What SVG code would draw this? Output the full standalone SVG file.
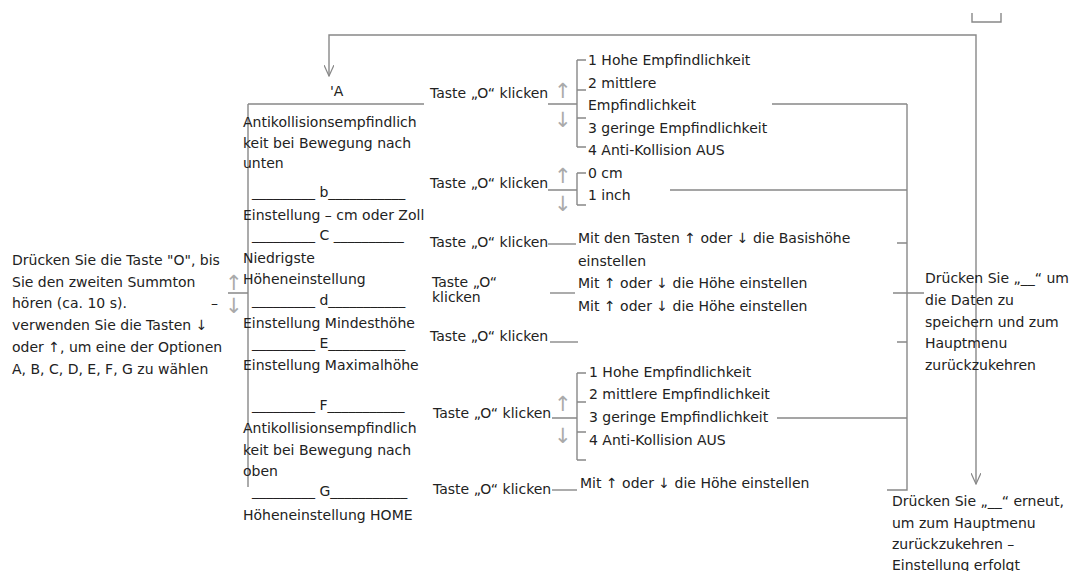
<svg xmlns="http://www.w3.org/2000/svg" width="1078" height="571" viewBox="0 0 1078 571">
<defs>
<marker id="arr" viewBox="0 0 12 10" refX="11" refY="5" markerWidth="12" markerHeight="10" markerUnits="userSpaceOnUse" orient="auto">
<path d="M0,0 L11,5 L0,10" fill="none" stroke="#888" stroke-width="1.2"/>
</marker>
<style>
text{font-family:"DejaVu Sans","Liberation Sans",sans-serif;font-size:14px;fill:#222}
.ar{fill:#aaa;font-size:21px}
.ln{stroke:#888;stroke-width:1.4;fill:none}
.fb{stroke:#888;stroke-width:1.4;fill:none;marker-end:url(#arr)}
</style>
</defs>
<rect width="1078" height="571" fill="#fff"/>

<g id="connectors">
<path class="fb" d="M976,290 V35 H329 V76"/>
<path class="fb" d="M976,290 V484"/>
<path class="ln" d="M972,13 V22 H1001 V13"/>
<path class="ln" d="M248,104 V487 M248,104 H424 M228,293 H248"/>
<path class="ln" d="M548,104 H577 M577,60 V147 M577,60 H586 M577,90 H586 M577,118 H586 M577,147 H586"/>
<path class="ln" d="M548,190 H577 M577,173 V205 M577,173 H586 M577,205 H586"/>
<path class="ln" d="M548,244 H576"/>
<path class="ln" d="M550,293 H575"/>
<path class="ln" d="M550,342 H578"/>
<path class="ln" d="M552,418 H577 M577,373 V460 M577,373 H586 M577,402 H586 M577,432 H586 M577,460 H586"/>
<path class="ln" d="M552,490 H577"/>
<path class="ln" d="M907,104 V490 H887 M772,104 H907 M670,190 H907 M777,418 H907 M897,243 H907 M897,342 H907 M893,293 H924"/>
</g>

<g id="arrows">
<text class="ar" x="554" y="98">↑</text>
<text class="ar" x="554" y="127">↓</text>
<text class="ar" x="554" y="183">↑</text>
<text class="ar" x="554" y="211">↓</text>
<text class="ar" x="554" y="411">↑</text>
<text class="ar" x="554" y="443">↓</text>
<text class="ar" x="225" y="290">↑</text>
<text class="ar" x="225" y="313">↓</text>
</g>

<g id="start">
<text x="12" y="265">Drücken Sie die Taste "O", bis</text>
<text x="12" y="287">Sie den zweiten Summton</text>
<text x="12" y="308">hören (ca. 10 s).</text>
<text x="211" y="308">–</text>
<text x="12" y="330">verwenden Sie die Tasten ↓</text>
<text x="12" y="352">oder ↑, um eine der Optionen</text>
<text x="12" y="374">A, B, C, D, E, F, G zu wählen</text>
</g>

<g id="menu">
<text x="330" y="96">'A</text>
<text x="243" y="127">Antikollisionsempfindlich</text>
<text x="243" y="148">keit bei Bewegung nach</text>
<text x="243" y="168">unten</text>
<text x="252" y="197">_________ b___________</text>
<text x="243" y="220">Einstellung – cm oder Zoll</text>
<text x="252" y="240">_________ C __________</text>
<text x="243" y="263">Niedrigste</text>
<text x="243" y="284">Höheneinstellung</text>
<text x="252" y="305">_________ d___________</text>
<text x="243" y="328">Einstellung Mindesthöhe</text>
<text x="252" y="348">_________ E___________</text>
<text x="243" y="370">Einstellung Maximalhöhe</text>
<text x="252" y="410">_________ F___________</text>
<text x="243" y="433">Antikollisionsempfindlich</text>
<text x="243" y="455">keit bei Bewegung nach</text>
<text x="243" y="476">oben</text>
<text x="252" y="496">_________ G___________</text>
<text x="243" y="520">Höheneinstellung HOME</text>
</g>

<g id="taste">
<text x="430" y="98">Taste „O“ klicken</text>
<text x="430" y="188">Taste „O“ klicken</text>
<text x="430" y="247">Taste „O“ klicken</text>
<text x="432" y="287">Taste „O“</text>
<text x="432" y="302">klicken</text>
<text x="430" y="341">Taste „O“ klicken</text>
<text x="433" y="418">Taste „O“ klicken</text>
<text x="433" y="494">Taste „O“ klicken</text>
</g>

<g id="options-a">
<text x="588" y="65">1 Hohe Empfindlichkeit</text>
<text x="588" y="88">2 mittlere</text>
<text x="588" y="110">Empfindlichkeit</text>
<text x="588" y="133">3 geringe Empfindlichkeit</text>
<text x="588" y="155">4 Anti-Kollision AUS</text>
</g>
<g id="options-b">
<text x="588" y="178">0 cm</text>
<text x="588" y="200">1 inch</text>
</g>
<g id="options-c">
<text x="578" y="243">Mit den Tasten ↑ oder ↓ die Basishöhe</text>
<text x="578" y="266">einstellen</text>
</g>
<g id="options-d">
<text x="578" y="288">Mit ↑ oder ↓ die Höhe einstellen</text>
<text x="578" y="311">Mit ↑ oder ↓ die Höhe einstellen</text>
</g>
<g id="options-f">
<text x="589" y="377">1 Hohe Empfindlichkeit</text>
<text x="589" y="399">2 mittlere Empfindlichkeit</text>
<text x="589" y="422">3 geringe Empfindlichkeit</text>
<text x="589" y="445">4 Anti-Kollision AUS</text>
</g>
<g id="options-g">
<text x="580" y="488">Mit ↑ oder ↓ die Höhe einstellen</text>
</g>

<g id="save">
<text x="925" y="283">Drücken Sie „__“ um</text>
<text x="925" y="305">die Daten zu</text>
<text x="925" y="327">speichern und zum</text>
<text x="925" y="348">Hauptmenu</text>
<text x="925" y="370">zurückzukehren</text>
</g>

<g id="exit">
<text x="892" y="506">Drücken Sie „__“ erneut,</text>
<text x="892" y="528">um zum Hauptmenu</text>
<text x="892" y="549">zurückzukehren –</text>
<text x="892" y="570">Einstellung erfolgt</text>
</g>
</svg>
